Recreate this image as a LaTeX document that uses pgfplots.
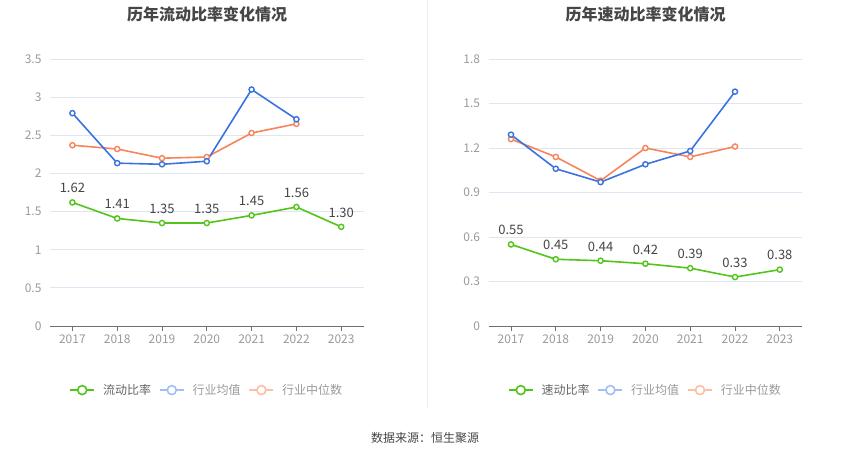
\documentclass[border=0pt]{standalone}
\usepackage{pgfplots}
\pgfplotsset{compat=1.18}
\usepackage{fontspec}
\setmainfont{Noto Sans CJK SC}
\definecolor{cgreen}{HTML}{52C41A}
\definecolor{cblue}{HTML}{3A72E3}
\definecolor{corange}{HTML}{F7845A}
\definecolor{lblue}{HTML}{A3BEF3}
\definecolor{lorange}{HTML}{FBC0A6}
\definecolor{gridc}{HTML}{E0E6F1}
\definecolor{axisc}{HTML}{6E7079}
\definecolor{tickc}{HTML}{9A9A9A}
\definecolor{labc}{HTML}{444444}
\definecolor{titc}{HTML}{464646}
\definecolor{legc}{HTML}{666666}
\definecolor{sepc}{HTML}{EEEEEE}
\begin{document}
\begin{tikzpicture}
\useasboundingbox (0pt,0pt) rectangle (850pt,-459pt);
\draw[color=sepc, line width=0.8pt] (427pt,0pt) -- (427pt,-408pt);
\pgfplotsset{
  myax/.style={
    scale only axis, width=313.6pt, height=267pt,
    xmin=-0.5, xmax=6.5, ymin=0,
    xtick={0,...,6}, xticklabels={2017,2018,2019,2020,2021,2022,2023},
    axis lines*=left,
    y axis line style={draw=none},
    x axis line style={draw=axisc, line width=0.8pt},
    ytick style={draw=none},
    xtick style={draw=axisc, line width=0.8pt},
    tick align=outside, major tick length=5pt,
    ymajorgrids, grid style={gridc, line width=0.8pt},
    ticklabel style={font=\fontsize{12}{12}\selectfont, color=tickc},
    /pgf/number format/assume math mode=true,
    clip=false,
    legend columns=3,
    legend cell align=left,
    legend style={draw=none, fill=none, at={(axis description cs:0.5,-0.24)}, anchor=center,
      font=\fontsize{12}{12}\selectfont, column sep=6pt, inner sep=0pt},
    legend image code/.code={\draw[##1,mark repeat=2,mark phase=2] plot coordinates {(0pt,0pt)(12pt,0pt)(24pt,0pt)};},
  },
  ser/.style={line width=1.6pt, mark=*, mark size=2.6pt, mark options={fill=white, line width=1.4pt}},
  lab/.style={nodes near coords={\pgfmathprintnumber[fixed,fixed zerofill,precision=2]{\pgfplotspointmeta}},
    point meta=y,
    every node near coord/.append style={font=\fontsize{13}{13}\selectfont, color=labc, yshift=5.5pt}},
}
% Left chart
\begin{axis}[myax, at={(50pt,-326pt)}, anchor=south west, ymax=3.5, ytick={0,0.5,1,1.5,2,2.5,3,3.5}]
\addlegendimage{cgreen, line width=1.6pt, mark=*, mark size=4.5pt, mark options={fill=white, line width=1.6pt}}
\addlegendentry{\textcolor{legc}{流动比率}}
\addlegendimage{lblue, line width=1.6pt, mark=*, mark size=4.5pt, mark options={fill=white, line width=1.6pt}}
\addlegendentry{\textcolor{tickc}{行业均值}}
\addlegendimage{lorange, line width=1.6pt, mark=*, mark size=4.5pt, mark options={fill=white, line width=1.6pt}}
\addlegendentry{\textcolor{tickc}{行业中位数}}
\addplot[ser, corange, forget plot] coordinates {(0,2.37) (1,2.32) (2,2.20) (3,2.215) (4,2.53) (5,2.65)};
\addplot[ser, cblue, forget plot] coordinates {(0,2.79) (1,2.135) (2,2.12) (3,2.16) (4,3.10) (5,2.71)};
\addplot[ser, cgreen, lab, forget plot] coordinates {(0,1.62) (1,1.41) (2,1.35) (3,1.35) (4,1.45) (5,1.56) (6,1.30)};
\end{axis}
\node[font=\bfseries\fontsize{16}{16}\selectfont, color=titc] at (207pt,-14pt) {历年流动比率变化情况};
% Right chart
\begin{axis}[myax, at={(488.6pt,-326pt)}, anchor=south west, ymax=1.8, ytick={0,0.3,0.6,0.9,1.2,1.5,1.8}]
\addlegendimage{cgreen, line width=1.6pt, mark=*, mark size=4.5pt, mark options={fill=white, line width=1.6pt}}
\addlegendentry{\textcolor{legc}{速动比率}}
\addlegendimage{lblue, line width=1.6pt, mark=*, mark size=4.5pt, mark options={fill=white, line width=1.6pt}}
\addlegendentry{\textcolor{tickc}{行业均值}}
\addlegendimage{lorange, line width=1.6pt, mark=*, mark size=4.5pt, mark options={fill=white, line width=1.6pt}}
\addlegendentry{\textcolor{tickc}{行业中位数}}
\addplot[ser, corange, forget plot] coordinates {(0,1.26) (1,1.14) (2,0.98) (3,1.20) (4,1.14) (5,1.21)};
\addplot[ser, cblue, forget plot] coordinates {(0,1.29) (1,1.06) (2,0.97) (3,1.09) (4,1.18) (5,1.58)};
\addplot[ser, cgreen, lab, forget plot] coordinates {(0,0.55) (1,0.45) (2,0.44) (3,0.42) (4,0.39) (5,0.33) (6,0.38)};
\end{axis}
\node[font=\bfseries\fontsize{16}{16}\selectfont, color=titc] at (645.5pt,-14pt) {历年速动比率变化情况};
\node[font=\fontsize{12}{12}\selectfont, color=labc] at (425pt,-438pt) {数据来源：恒生聚源};
\end{tikzpicture}
\end{document}
